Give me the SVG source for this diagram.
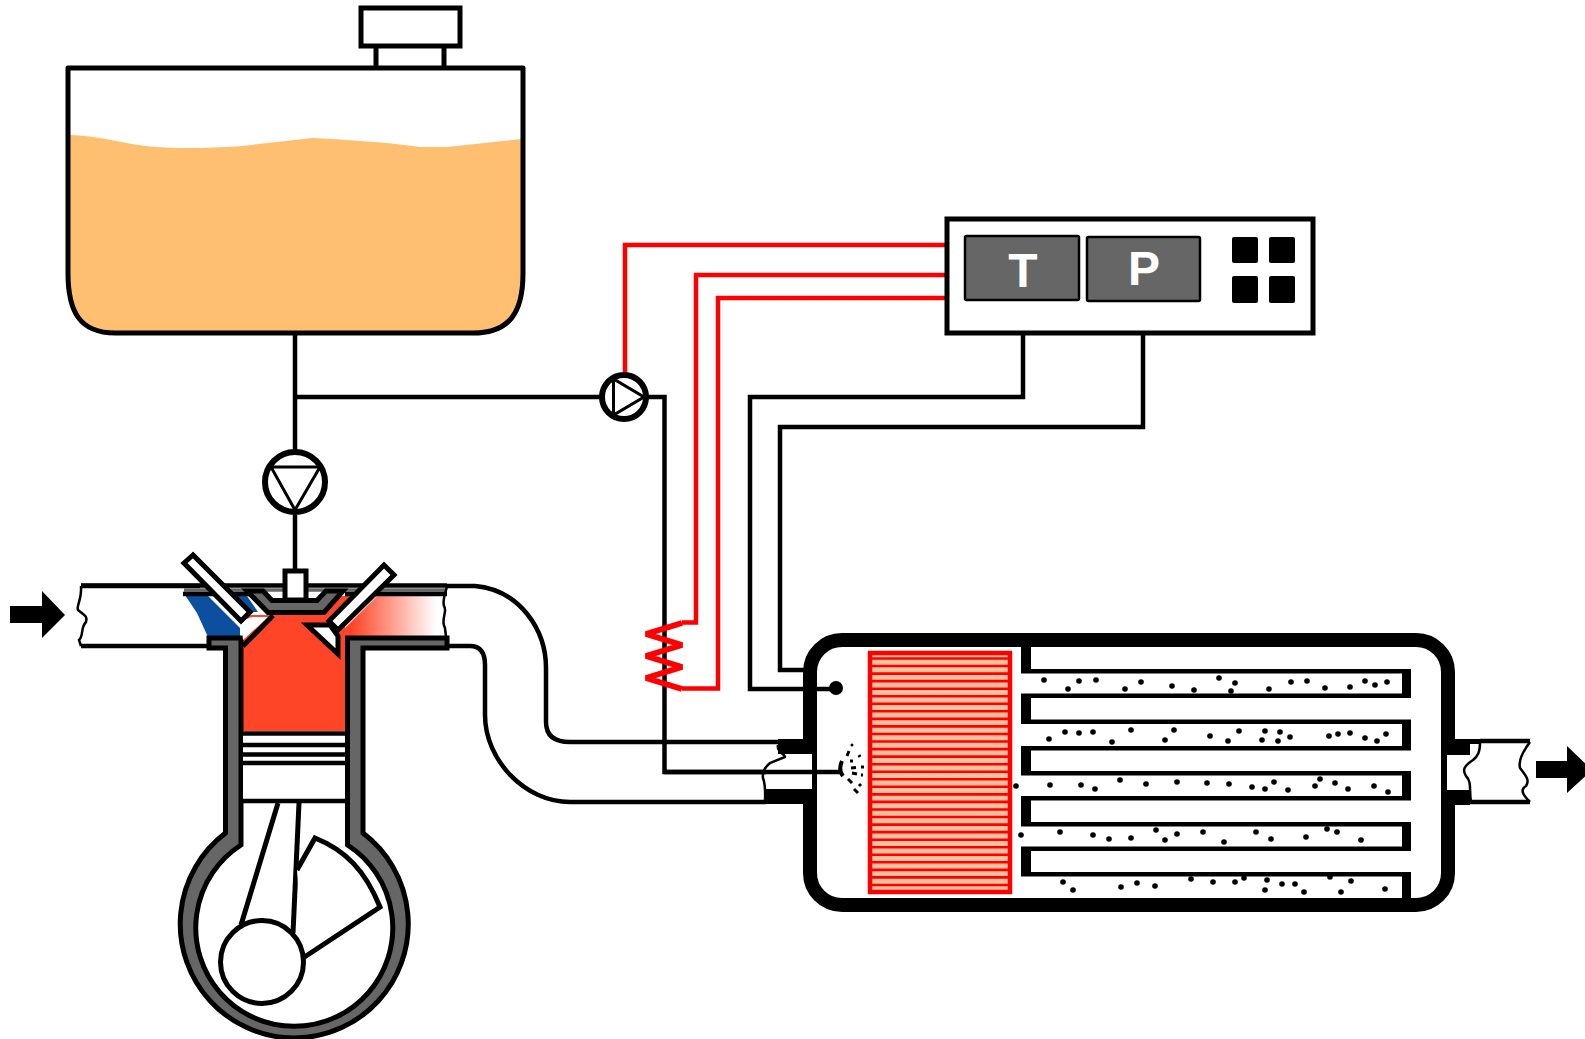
<svg xmlns="http://www.w3.org/2000/svg" width="1585" height="1039" viewBox="0 0 1585 1039">
<defs>
<style>
.k{fill:none;stroke:#000;stroke-width:5;stroke-linejoin:round}
.w{fill:#fff;stroke:#000;stroke-width:5;stroke-linejoin:miter}
.wire{fill:none;stroke:#000;stroke-width:4.500}
.red{fill:none;stroke:#f00;stroke-width:4.500}
.wave{fill:none;stroke:#000;stroke-width:2.500}
.gray{fill:#666;stroke:#000;stroke-width:5;stroke-linejoin:miter}
.f{fill:#000}
.lbl{font-family:"Liberation Sans",Arial,sans-serif;font-weight:bold;font-size:48px;fill:#fff;text-anchor:middle}
</style>
<linearGradient id="ex" gradientUnits="userSpaceOnUse" x1="352" y1="0" x2="436" y2="0">
<stop offset="0" stop-color="#ff4528"/><stop offset="1" stop-color="#fff"/>
</linearGradient>
</defs>
<rect width="1585" height="1039" fill="#fff"/>

<g id="tank">
<path class="w" d="M376 46V68M444 46V68" />
<path d="M70 135C95 135 125 144 150 146.500C180 149 210 148 237 146.500L313 138C350 140 385 142 420 147H447L522 139V273C522 312 510 332 473 332H115C80 332 70 312 70 273Z" fill="#ffbf70"/>
<path class="k" d="M68 68H523V273C523 312 510 333 473 333H115C80 333 68 312 68 273Z"/>
<rect class="w" x="361" y="8" width="99" height="38"/>
</g>

<g id="connectors">
<path class="wire" d="M295 333V451M295 515V570"/>
<path class="wire" d="M295 397H600M648 397H664.500V772H840"/>
<path class="wire" d="M1023 333V397H750V689H830"/>
<path class="wire" d="M1143 333V427H780V670H805"/>
<path class="red" d="M947 245H625V375"/>
<path class="red" d="M947 275H696V622.500H682M682 688.500H718V298H947"/>
<path d="M682 623L646 634L682 645L646 656L682 667L646 678L682 689" fill="none" stroke="#f00" stroke-width="6" stroke-linejoin="bevel"/>
</g>

<g id="controller">
<rect class="w" x="947" y="219" width="366" height="114"/>
<rect x="965" y="236" width="114" height="64" rx="1.500" fill="#666" stroke="#000" stroke-width="2.500"/>
<rect x="1087" y="237" width="113" height="64" rx="1.500" fill="#666" stroke="#000" stroke-width="2.500"/>
<text class="lbl" x="1023" y="287">T</text>
<text class="lbl" x="1144" y="285">P</text>
<rect class="f" x="1232" y="237" width="26" height="26" rx="2"/>
<rect class="f" x="1269" y="237" width="26" height="26" rx="2"/>
<rect class="f" x="1232" y="276" width="26" height="27" rx="2"/>
<rect class="f" x="1269" y="276" width="26" height="27" rx="2"/>
</g>

<g id="pump-air">
<circle cx="624" cy="397" r="22" fill="#fff" stroke="#000" stroke-width="6"/>
<path d="M613.500 379V415L644 397Z" fill="#fff" stroke="#000" stroke-width="3"/>
</g>

<g id="pump-fuel">
<circle cx="295" cy="482" r="30" fill="#fff" stroke="#000" stroke-width="6"/>
<path d="M271 467H320L295 510Z" fill="#fff" stroke="#000" stroke-width="3"/>
</g>

<g id="intake">
<path class="wire" d="M81 586H200M81 646H212"/>
<path class="wave" d="M81 586C82 600 76 606 78 610C84 615 88 616 86 622C80 628 84 636 79 640L81 646"/>
<path class="f" d="M10 606H42V591L65 615L42 638V623H10Z"/>
</g>

<g id="exhaust-pipes">
<path class="wire" d="M447 586H475C520 590 546 630 546 668V722Q546 742 570 742H778"/>
<path class="wire" d="M447 646H470Q485 646 485 665V715C485 760 525 802 570 802H766"/>
</g>

<g id="engine">
<path d="M243 615H345V732H243Z" fill="#ff4528"/>
<path d="M377 596H445V638H345V628Z" fill="url(#ex)"/>
<path d="M340 596H352L330 620H318Z" fill="#ff4528"/>
<path d="M185 595H207L240 628V637H208L197 613Z" fill="#0b4f9e"/>
<path d="M235 596H247L258 612H250Z" fill="#0b4f9e"/>
<path class="wire" d="M81 585.500H447"/>
<path class="gray" d="M209 648H225.500V833A114 114 0 1 0 363 833V648H447V638H347.500V845A98.500 98.500 0 1 1 241 845V638H209Z"/>
<path d="M184 590H447" stroke="#666" stroke-width="3.500" fill="none"/>
<path d="M183 594H250M345 594H447" stroke="#000" stroke-width="4.500" fill="none"/>
<path class="gray" d="M247 591H263L272 600.500H317L326 591H343L324 612.500H268Z"/>
<path d="M241 621L252 617H268L243 640Z" fill="#fff"/>
<path d="M243 646L273 615.500" stroke="#000" stroke-width="5"/>
<path d="M243 731H345V800H243Z" fill="#fff"/>
<path d="M241 733.500H347M241 745H347M241 754.500H347M241 763H347M241 801H347" stroke="#000" stroke-width="4.500" fill="none"/>
<path d="M278 803L241 925M299 803L293 933" stroke="#000" stroke-width="5" fill="none"/>
<path fill="#fff" stroke="#000" stroke-width="5" d="M297 870L315 838C345 850 365 870 380 907L303 958"/>
<circle cx="262" cy="962" r="41.500" fill="#fff" stroke="#000" stroke-width="5"/>
<rect class="w" x="285" y="571" width="21" height="29"/>
<path class="w" d="M193 555L184 563L241 621L250 612Z"/>
<path class="w" d="M307 625H330L338 636V654Z"/>
<path class="w" d="M384 565L394 575L338 630L329 621Z"/>
</g>

<g id="filter">
<rect x="810" y="640" width="638" height="265" rx="32" fill="#fff" stroke="#000" stroke-width="14"/>
<path class="f" d="M778 739H810V754H778ZM766 789H810V804H766Z"/>
<rect x="766" y="754" width="46" height="35" fill="#fff"/>
<path class="f" d="M1447 739H1480V755H1447ZM1447 790H1470V805H1447Z"/>
<rect x="1447" y="755" width="23" height="35" fill="#fff"/>
<rect x="1470" y="744" width="60" height="56" fill="#fff"/>
<path class="wire" d="M780 742H806M1480 741H1530M1470 802H1530"/>
<path class="wire" d="M664.500 772H840M805 689H830"/>
<path class="wave" d="M778 745C776 752 786 755 785 757L770 763C764 768 762 772 763 778C766 786 765 795 765 802"/>
<path class="wave" d="M1480 742C1480 752 1478 756 1473 760C1464 766 1462 770 1466 776C1472 782 1469 790 1471 802"/>
<path class="wave" d="M1530 742C1524 750 1518 760 1520 768C1526 776 1530 780 1526 786C1518 790 1526 798 1530 802"/>
<path class="wave" d="M447 586C446 592 442 600 444 606C448 612 440 620 445 628L447 646"/>
<path class="f" d="M1536 761H1567V746L1592 770L1567 793V778H1536Z"/>
<path class="f" d="M1021 647H1031V669H1411V698H1031V719.500H1411V750.500H1031V771H1411V800.500H1031V822H1411V851H1031V872H1411V898H1402V876.500H1021V846.500H1402V826.500H1021V796H1402V775.500H1021V746H1402V724H1021V693.500H1402V673.500H1021Z"/>
<circle class="f" cx="836" cy="688" r="7"/>
<rect x="870" y="653" width="140" height="239" fill="#ffc0a0" stroke="#f00" stroke-width="4.500"/>
<path stroke="#f00" stroke-width="2.600" fill="none" d="M868 658.500H1012M868 666H1012M868 673.600H1012M868 681.100H1012M868 688.700H1012M868 696.200H1012M868 703.800H1012M868 711.300H1012M868 718.900H1012M868 726.400H1012M868 734H1012M868 741.500H1012M868 749.100H1012M868 756.600H1012M868 764.200H1012M868 771.700H1012M868 779.300H1012M868 786.800H1012M868 794.400H1012M868 801.900H1012M868 809.500H1012M868 817H1012M868 824.600H1012M868 832.100H1012M868 839.700H1012M868 847.200H1012M868 854.800H1012M868 862.300H1012M868 869.900H1012M868 877.400H1012M868 885H1012"/>
<path d="M842 761Q838 770 843 776" fill="none" stroke="#000" stroke-width="4"/>
<path d="M847 756L849 751M850 761H853M859 755L860 757M851 768L856 767.500M852 773L857 774M861 767H864M861 775H863M848 779L852 783M859 784L861 786M854 789L858 793" stroke="#000" stroke-width="3" fill="none"/>
<circle class="f" cx="852" cy="745" r="1.500"/>
<g class="f" id="soot">
<circle cx="1044" cy="680" r="2.800"/><circle cx="1068" cy="689" r="2.800"/><circle cx="1079" cy="681" r="2.800"/><circle cx="1096" cy="680" r="2.800"/><circle cx="1125" cy="689" r="2.800"/><circle cx="1141" cy="682" r="2.800"/><circle cx="1172" cy="686" r="2.800"/><circle cx="1194" cy="690" r="2.800"/><circle cx="1219" cy="678" r="2.800"/><circle cx="1235" cy="683" r="2.800"/><circle cx="1231" cy="691" r="2.800"/><circle cx="1269" cy="689" r="2.800"/><circle cx="1291" cy="682" r="2.800"/><circle cx="1307" cy="681" r="2.800"/><circle cx="1325" cy="688" r="2.800"/><circle cx="1350" cy="687" r="2.800"/><circle cx="1365" cy="681" r="2.800"/><circle cx="1375" cy="685" r="2.800"/><circle cx="1387" cy="682" r="2.800"/>
<circle cx="1049" cy="739" r="2.800"/><circle cx="1065" cy="732" r="2.800"/><circle cx="1079" cy="733" r="2.800"/><circle cx="1093" cy="732" r="2.800"/><circle cx="1112" cy="742" r="2.800"/><circle cx="1131" cy="730" r="2.800"/><circle cx="1165" cy="740" r="2.800"/><circle cx="1174" cy="730" r="2.800"/><circle cx="1210" cy="736" r="2.800"/><circle cx="1228" cy="741" r="2.800"/><circle cx="1239" cy="731" r="2.800"/><circle cx="1265" cy="731" r="2.800"/><circle cx="1262" cy="740" r="2.800"/><circle cx="1280" cy="732" r="2.800"/><circle cx="1278" cy="741" r="2.800"/><circle cx="1290" cy="737" r="2.800"/><circle cx="1329" cy="736" r="2.800"/><circle cx="1338" cy="734" r="2.800"/><circle cx="1350" cy="733" r="2.800"/><circle cx="1365" cy="738" r="2.800"/><circle cx="1377" cy="741" r="2.800"/><circle cx="1386" cy="734" r="2.800"/>
<circle cx="1016" cy="786" r="2.800"/><circle cx="1050" cy="785" r="2.800"/><circle cx="1081" cy="785" r="2.800"/><circle cx="1095" cy="789" r="2.800"/><circle cx="1120" cy="780" r="2.800"/><circle cx="1146" cy="784" r="2.800"/><circle cx="1177" cy="782" r="2.800"/><circle cx="1207" cy="783" r="2.800"/><circle cx="1229" cy="784" r="2.800"/><circle cx="1252" cy="787" r="2.800"/><circle cx="1265" cy="789" r="2.800"/><circle cx="1274" cy="782" r="2.800"/><circle cx="1288" cy="790" r="2.800"/><circle cx="1315" cy="786" r="2.800"/><circle cx="1320" cy="779" r="2.800"/><circle cx="1335" cy="783" r="2.800"/><circle cx="1348" cy="789" r="2.800"/><circle cx="1374" cy="786" r="2.800"/><circle cx="1388" cy="792" r="2.800"/>
<circle cx="1021" cy="835" r="2.800"/><circle cx="1060" cy="832" r="2.800"/><circle cx="1093" cy="835" r="2.800"/><circle cx="1109" cy="839" r="2.800"/><circle cx="1131" cy="838" r="2.800"/><circle cx="1156" cy="830" r="2.800"/><circle cx="1165" cy="840" r="2.800"/><circle cx="1177" cy="834" r="2.800"/><circle cx="1203" cy="832" r="2.800"/><circle cx="1224" cy="842" r="2.800"/><circle cx="1256" cy="832" r="2.800"/><circle cx="1271" cy="839" r="2.800"/><circle cx="1306" cy="837" r="2.800"/><circle cx="1327" cy="829" r="2.800"/><circle cx="1337" cy="832" r="2.800"/><circle cx="1361" cy="840" r="2.800"/>
<circle cx="1063" cy="882" r="2.800"/><circle cx="1073" cy="890" r="2.800"/><circle cx="1121" cy="887" r="2.800"/><circle cx="1137" cy="883" r="2.800"/><circle cx="1155" cy="886" r="2.800"/><circle cx="1191" cy="879" r="2.800"/><circle cx="1213" cy="882" r="2.800"/><circle cx="1235" cy="882" r="2.800"/><circle cx="1244" cy="878" r="2.800"/><circle cx="1267" cy="880" r="2.800"/><circle cx="1265" cy="890" r="2.800"/><circle cx="1282" cy="884" r="2.800"/><circle cx="1295" cy="884" r="2.800"/><circle cx="1304" cy="892" r="2.800"/><circle cx="1330" cy="877" r="2.800"/><circle cx="1341" cy="892" r="2.800"/><circle cx="1351" cy="881" r="2.800"/><circle cx="1385" cy="889" r="2.800"/>
</g>
</g>
</svg>
